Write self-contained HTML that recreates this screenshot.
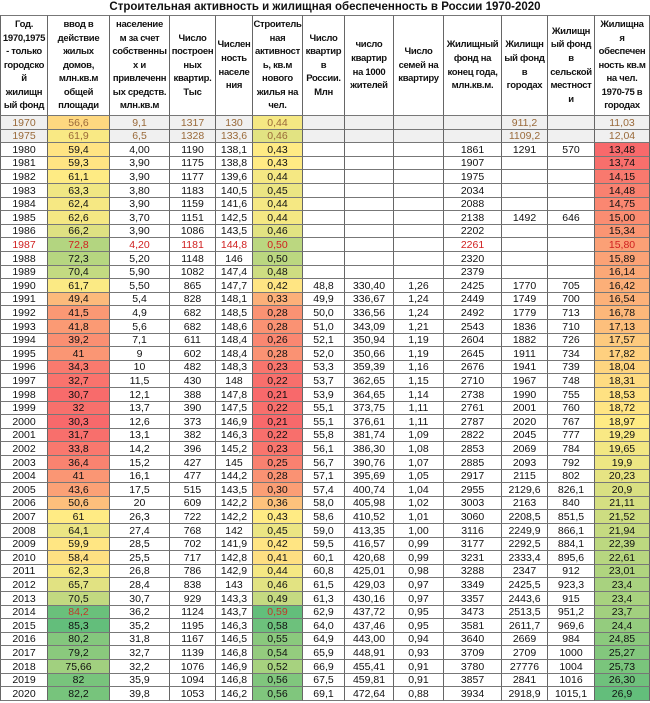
<!DOCTYPE html>
<html><head><meta charset="utf-8">
<style>
body{margin:0;width:650px;height:703px;background:#fff;overflow:hidden;font-family:"Liberation Sans",sans-serif;position:relative}
.t{position:absolute;left:0;top:0;width:650px;text-align:center;font-weight:bold;font-size:11.5px;line-height:15px;color:#111}
.c{position:absolute;box-sizing:border-box;border-right:1px solid #666;border-bottom:1px solid #777;text-align:center;font-size:10.5px;color:#111;overflow:hidden;white-space:nowrap}
.h{font-weight:bold;font-size:9.5px;letter-spacing:-0.3px;line-height:13.6px;display:flex;align-items:center;justify-content:center;padding:0}
</style></head><body>
<div class="t">Строительная активность и жилищная обеспеченность в России 1970-2020</div>
<div id="g"></div>
<script>
var X=[0,48,110,170,216,253,303,345,394,444,502,548,595,650];
var H=["Год.<br>1970,1975<br>- только<br>городско<br>й<br>жилищн<br>ый фонд","ввод в<br>действие<br>жилых<br>домов,<br>млн.кв.м<br>общей<br>площади","население<br>м за счет<br>собственны<br>х и<br>привлеченн<br>ых средств.<br>млн.кв.м","Число<br>построен<br>ных<br>квартир.<br>Тыс","Числен<br>ность<br>населе<br>ния","Строитель<br>ная<br>активност<br>ь, кв.м<br>нового<br>жилья на<br>чел.","Число<br>квартир<br>в<br>России.<br>Млн","число<br>квартир<br>на 1000<br>жителей","Число<br>семей на<br>квартиру","Жилищный<br>фонд на<br>конец года,<br>млн.кв.м.","Жилищн<br>ый фонд<br>в<br>городах","Жилищн<br>ый фонд<br>в<br>сельской<br>местност<br>и","Жилищна<br>я<br>обеспечен<br>ность кв.м<br>на чел.<br>1970-75 в<br>городах"];
var D=`1970|56,6|9,1|1317|130|0,44|||||911,2||11,03
1975|61,9|6,5|1328|133,6|0,46|||||1109,2||12,04
1980|59,4|4,00|1190|138,1|0,43||||1861|1291|570|13,48
1981|59,3|3,90|1175|138,8|0,43||||1907|||13,74
1982|61,1|3,90|1177|139,6|0,44||||1975|||14,15
1983|63,3|3,80|1183|140,5|0,45||||2034|||14,48
1984|62,4|3,90|1159|141,6|0,44||||2088|||14,75
1985|62,6|3,70|1151|142,5|0,44||||2138|1492|646|15,00
1986|66,2|3,90|1086|143,5|0,46||||2202|||15,34
1987|72,8|4,20|1181|144,8|0,50||||2261|||15,80
1988|72,3|5,20|1148|146|0,50||||2320|||15,89
1989|70,4|5,90|1082|147,4|0,48||||2379|||16,14
1990|61,7|5,50|865|147,7|0,42|48,8|330,40|1,26|2425|1770|705|16,42
1991|49,4|5,4|828|148,1|0,33|49,9|336,67|1,24|2449|1749|700|16,54
1992|41,5|4,9|682|148,5|0,28|50,0|336,56|1,24|2492|1779|713|16,78
1993|41,8|5,6|682|148,6|0,28|51,0|343,09|1,21|2543|1836|710|17,13
1994|39,2|7,1|611|148,4|0,26|52,1|350,94|1,19|2604|1882|726|17,57
1995|41|9|602|148,4|0,28|52,0|350,66|1,19|2645|1911|734|17,82
1996|34,3|10|482|148,3|0,23|53,3|359,39|1,16|2676|1941|739|18,04
1997|32,7|11,5|430|148|0,22|53,7|362,65|1,15|2710|1967|748|18,31
1998|30,7|12,1|388|147,8|0,21|53,9|364,65|1,14|2738|1990|755|18,53
1999|32|13,7|390|147,5|0,22|55,1|373,75|1,11|2761|2001|760|18,72
2000|30,3|12,6|373|146,9|0,21|55,1|376,61|1,11|2787|2020|767|18,97
2001|31,7|13,1|382|146,3|0,22|55,8|381,74|1,09|2822|2045|777|19,29
2002|33,8|14,2|396|145,2|0,23|56,1|386,30|1,08|2853|2069|784|19,65
2003|36,4|15,2|427|145|0,25|56,7|390,76|1,07|2885|2093|792|19,9
2004|41|16,1|477|144,2|0,28|57,1|395,69|1,05|2917|2115|802|20,23
2005|43,6|17,5|515|143,5|0,30|57,4|400,74|1,04|2955|2129,6|826,1|20,9
2006|50,6|20|609|142,2|0,36|58,0|405,98|1,02|3003|2163|840|21,11
2007|61|26,3|722|142,2|0,43|58,6|410,52|1,01|3060|2208,5|851,5|21,52
2008|64,1|27,4|768|142|0,45|59,0|413,35|1,00|3116|2249,9|866,1|21,94
2009|59,9|28,5|702|141,9|0,42|59,5|416,57|0,99|3177|2292,5|884,1|22,39
2010|58,4|25,5|717|142,8|0,41|60,1|420,68|0,99|3231|2333,4|895,6|22,61
2011|62,3|26,8|786|142,9|0,44|60,8|425,01|0,98|3288|2347|912|23,01
2012|65,7|28,4|838|143|0,46|61,5|429,03|0,97|3349|2425,5|923,3|23,4
2013|70,5|30,7|929|143,3|0,49|61,3|430,16|0,97|3357|2443,6|915|23,4
2014|84,2|36,2|1124|143,7|0,59|62,9|437,72|0,95|3473|2513,5|951,2|23,7
2015|85,3|35,2|1195|146,3|0,58|64,0|437,46|0,95|3581|2611,7|969,6|24,4
2016|80,2|31,8|1167|146,5|0,55|64,9|443,00|0,94|3640|2669|984|24,85
2017|79,2|32,7|1139|146,8|0,54|65,9|448,91|0,93|3709|2709|1000|25,27
2018|75,66|32,2|1076|146,9|0,52|66,9|455,41|0,91|3780|27776|1004|25,73
2019|82|35,9|1094|146,8|0,56|67,5|459,81|0,91|3857|2841|1016|26,30
2020|82,2|39,8|1053|146,2|0,56|69,1|472,64|0,88|3934|2918,9|1015,1|26,9`.split("\n").map(function(l){return l.split("|")});
function num(s){return parseFloat(s.replace(",","."))}
function scale(col,from){var v=D.slice(from).map(function(r){return num(r[col])});var s=v.slice().sort(function(a,b){return a-b});var mn=s[0],mx=s[s.length-1],n=s.length;var md=n%2?s[(n-1)/2]:(s[n/2-1]+s[n/2])/2;return {mn:mn,mx:mx,md:md}}
function lerp(a,b,t){return [0,1,2].map(function(i){return Math.round(a[i]+(b[i]-a[i])*t)})}
var R=[248,105,107],Y=[255,235,132],G=[99,190,123];
function col(v,s){var c=v<=s.md?lerp(R,Y,(v-s.mn)/(s.md-s.mn)):lerp(Y,G,(v-s.md)/(s.mx-s.md));return "rgb("+c.join(",")+")"}
var S1=scale(1,0),S5=scale(5,0),S12=scale(12,2);
var g=document.getElementById("g"),html="";
var top0=15,hh=101,rh=13.6;
for(var i=0;i<13;i++){html+='<div class="c h" style="left:'+X[i]+'px;top:'+top0+'px;width:'+(X[i+1]-X[i])+'px;height:'+hh+'px;border-top:1px solid #777;'+(i==0?'border-left:1px solid #666;':'')+'"><div>'+H[i]+'</div></div>';}
D.forEach(function(r,ri){var y=Math.round(top0+hh+ri*rh),y2=Math.round(top0+hh+(ri+1)*rh);
 for(var i=0;i<13;i++){var bg=ri<2?"#f0f0f0":"#fff",fc=ri<2?"#9a6a3a":"#111";
  if(i==1&&r[i])bg=col(num(r[i]),S1);
  if(i==5&&r[i])bg=col(num(r[i]),S5);
  if(i==12&&ri>=2)bg=col(num(r[i]),S12);
  if(r[0]=="1987")fc="#d02020";
  if(r[0]=="2014"&&(i==1||i==5))fc="#c0392b";
  html+='<div class="c" style="left:'+X[i]+'px;top:'+y+'px;width:'+(X[i+1]-X[i])+'px;height:'+(y2-y)+'px;line-height:'+(y2-y)+'px;background:'+bg+';color:'+fc+';'+(i==0?'border-left:1px solid #666;':'')+'">'+r[i]+'</div>';}
});
g.innerHTML=html;
</script>
</body></html>
